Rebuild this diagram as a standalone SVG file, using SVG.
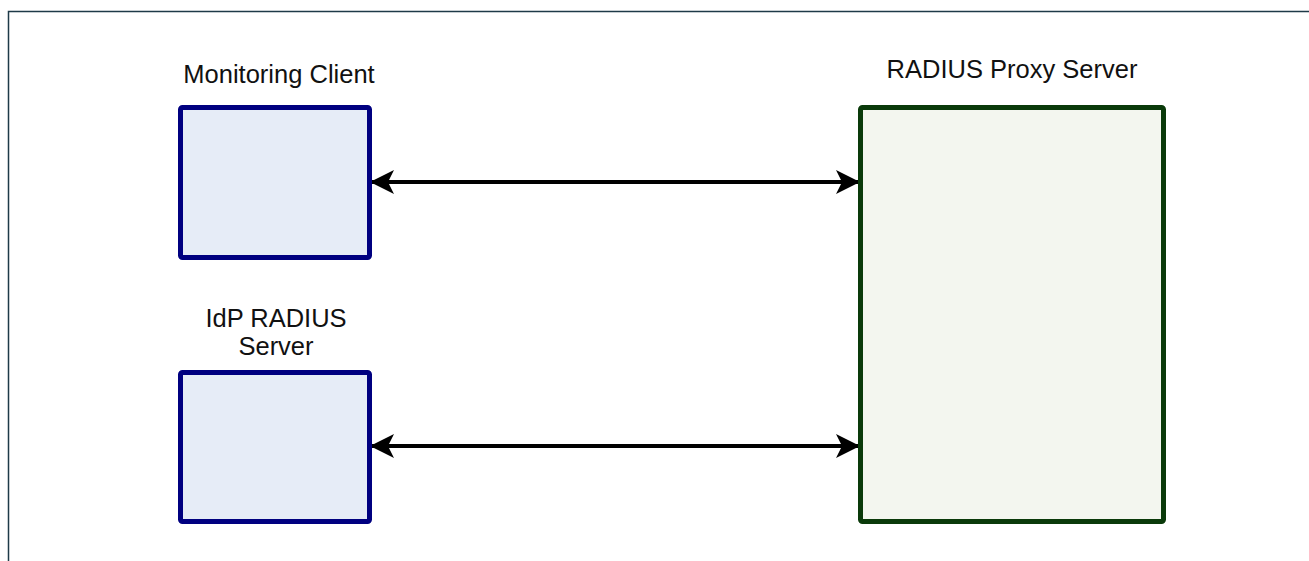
<svg xmlns="http://www.w3.org/2000/svg" width="1309" height="561" viewBox="0 0 1309 561">
  <style>
    .frame { fill: none; stroke: #1e3a48; stroke-width: 1.5; }
    .client { fill: #e6ecf7; stroke: #000080; stroke-width: 5; }
    .proxy { fill: #f3f6ef; stroke: #0a3a0a; stroke-width: 5; }
    .label { font-family: "Liberation Sans", Arial, sans-serif; font-size: 25.5px; fill: #111; text-anchor: middle; }
    .link { stroke: #000; stroke-width: 4; fill: none; marker-start: url(#head); marker-end: url(#head); }
  </style>
  <defs>
    <marker id="head" viewBox="0 0 24 24" refX="23" refY="12" markerWidth="24" markerHeight="24" markerUnits="userSpaceOnUse" orient="auto-start-reverse">
      <path d="M0,0 L24,12 L0,24 L6,12 Z" fill="#000"/>
    </marker>
  </defs>

  <rect width="1309" height="561" fill="#fff"/>
  <path class="frame" d="M8.5,561 V11.5 H1309"/>

  <g id="connectors">
    <line class="link" x1="371" y1="182" x2="859" y2="182"/>
    <line class="link" x1="371" y1="446" x2="859" y2="446"/>
  </g>

  <g id="monitoring-client">
    <rect class="client" x="180.5" y="107.5" width="189" height="150" rx="2"/>
    <text class="label" x="279" y="83">Monitoring Client</text>
  </g>

  <g id="idp-radius-server">
    <rect class="client" x="180.5" y="372.5" width="189" height="149" rx="2"/>
    <text class="label" x="276" y="327">IdP RADIUS</text>
    <text class="label" x="276" y="355">Server</text>
  </g>

  <g id="radius-proxy-server">
    <rect class="proxy" x="860.5" y="107.5" width="303" height="414" rx="2"/>
    <text class="label" x="1012" y="78">RADIUS Proxy Server</text>
  </g>
</svg>
